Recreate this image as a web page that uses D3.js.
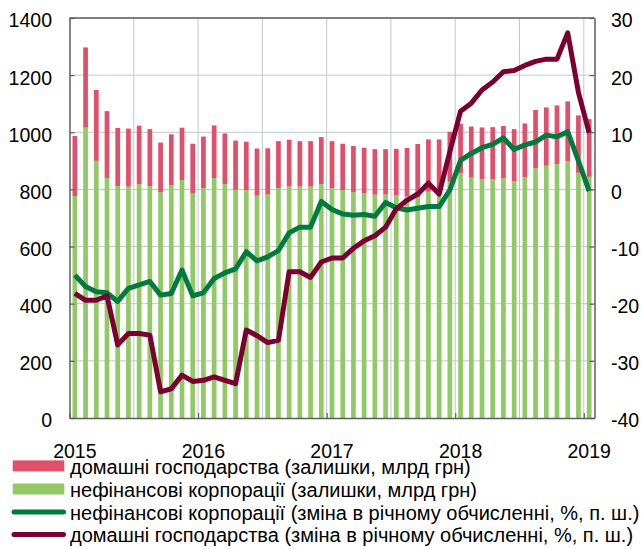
<!DOCTYPE html>
<html>
<head>
<meta charset="utf-8">
<script src="https://cdn.jsdelivr.net/npm/d3@7"></script>
<style>
  html, body { margin: 0; padding: 0; background: #fff; }
  svg { display: block; font-family: "Liberation Sans", Arial, sans-serif; }
</style>
</head>
<body>
<svg id="chart" width="641" height="549"></svg>
<script>
// ---- data ----
const years = ["2015", "2016", "2017", "2018", "2019"];
const months = d3.range(49).map(i => `${2015 + Math.floor(i / 12)}-${String(i % 12 + 1).padStart(2, "0")}`);

// stock of deposits, bn UAH
const corpStock = [777, 1016, 900, 840, 812, 810, 819, 812, 790, 815, 833, 786,
  804, 840, 819, 799, 797, 778, 782, 805, 810, 810, 810, 819,
  805, 798, 791, 786, 782, 782, 780, 775, 772, 792, 790, 827,
  856, 841, 836, 836, 839, 828, 843, 874, 883, 889, 899, 858,
  844];
const totalStock = [987, 1297, 1148, 1074, 1015, 1013, 1023, 1011, 964, 993, 1016, 960,
  985, 1024, 996, 971, 967, 943, 944, 969, 974, 969, 969, 983,
  969, 960, 952, 946, 941, 941, 942, 945, 959, 975, 975, 1002,
  1030, 1020, 1017, 1018, 1022, 1011, 1031, 1078, 1087, 1094, 1108, 1059,
  1046];
const householdStock = totalStock.map((t, i) => t - corpStock[i]);

// annual change, %, right axis
const corpChange = [-15.0, -17.0, -17.9, -18.1, -19.6, -17.3, -16.7, -16.1, -18.5, -18.2, -14.1, -18.6,
  -18.1, -15.6, -14.6, -13.9, -10.9, -12.5, -11.8, -10.7, -7.6, -6.6, -6.6, -2.1,
  -3.5, -4.3, -4.5, -4.4, -4.7, -2.3, -3.2, -3.6, -3.3, -3.0, -3.0, -0.1,
  5.1, 6.3, 7.3, 7.9, 9.0, 7.0, 7.8, 8.3, 9.5, 9.2, 10.1, 5.0,
  -0.3];
const householdChange = [-18.2, -19.4, -19.4, -18.6, -27.2, -25.2, -25.2, -25.5, -35.4, -34.9, -32.5, -33.6,
  -33.4, -32.8, -33.4, -34.0, -24.6, -25.6, -26.8, -26.4, -14.4, -14.4, -15.4, -12.7,
  -12.0, -12.0, -10.3, -9.0, -8.1, -6.6, -3.4, -1.9, -0.8, 1.1, -0.8, 6.6,
  13.7, 15.1, 17.4, 18.8, 20.6, 20.8, 21.7, 22.4, 22.8, 22.8, 27.4, 17.0,
  9.9];

const leftTicks = [0, 200, 400, 600, 800, 1000, 1200, 1400];
const rightTicks = [-40, -30, -20, -10, 0, 10, 20, 30];

const legendItems = [
  { label: "домашні господарства (залишки, млрд грн)", type: "rect", color: "#E0506A" },
  { label: "нефінансові корпорації (залишки, млрд грн)", type: "rect", color: "#93C866" },
  { label: "нефінансові корпорації (зміна в річному обчисленні, %, п. ш.)", type: "line", color: "#007A3E" },
  { label: "домашні господарства (зміна в річному обчисленні, %, п. ш.)", type: "line", color: "#7A0031" }
];

// ---- layout ----
const svg = d3.select("#chart");
const L = 69.5, R = 594.5, T = 18, B = 418;
const FS = 19.5, LFS = 20;

const x = d3.scaleBand().domain(months).range([L, R]).paddingInner(0.56).paddingOuter(0.28);
const xEdge = d3.scaleLinear().domain([0, months.length]).range([L, R]);
const yL = d3.scaleLinear().domain([0, 1400]).range([B, T]);
const yR = d3.scaleLinear().domain([-40, 30]).range([B, T]);
const cx = m => x(m) + x.bandwidth() / 2;

// gridlines
const grid = svg.append("g").attr("stroke", "#C3C7CB").attr("stroke-width", 1);
grid.selectAll("line.h").data(leftTicks.slice(1)).join("line")
  .attr("x1", L).attr("x2", R).attr("y1", d => yL(d)).attr("y2", d => yL(d));
grid.selectAll("line.v").data(d3.range(6, 49, 6)).join("line")
  .attr("x1", d => xEdge(d)).attr("x2", d => xEdge(d)).attr("y1", T).attr("y2", B);

// bars
svg.append("g").selectAll("rect").data(months).join("rect")
  .attr("x", m => x(m)).attr("width", x.bandwidth())
  .attr("y", (m, i) => yL(corpStock[i])).attr("height", (m, i) => yL(0) - yL(corpStock[i]))
  .attr("fill", legendItems[1].color);
svg.append("g").selectAll("rect").data(months).join("rect")
  .attr("x", m => x(m)).attr("width", x.bandwidth())
  .attr("y", (m, i) => yL(corpStock[i] + householdStock[i]))
  .attr("height", (m, i) => yL(corpStock[i]) - yL(corpStock[i] + householdStock[i]))
  .attr("fill", legendItems[0].color);

// lines
const line = arr => d3.line().x((m) => cx(m)).y((m, i) => yR(arr[i]))(months);
svg.append("path").attr("d", line(corpChange)).attr("fill", "none")
  .attr("stroke", legendItems[2].color).attr("stroke-width", 5).attr("stroke-linejoin", "round");
svg.append("path").attr("d", line(householdChange)).attr("fill", "none")
  .attr("stroke", legendItems[3].color).attr("stroke-width", 5).attr("stroke-linejoin", "round");

// axes
const axisColor = "#5E5E5E";
const plain = d => String(d);
const gL = svg.append("g").attr("transform", `translate(${L},0)`)
  .call(d3.axisLeft(yL).tickValues(leftTicks).tickFormat(plain).tickSize(-5).tickSizeOuter(0).tickPadding(17.5));
const gR = svg.append("g").attr("transform", `translate(${R},0)`)
  .call(d3.axisRight(yR).tickValues(rightTicks).tickFormat(plain).tickSize(-5).tickSizeOuter(0).tickPadding(16.5));
const gB = svg.append("g").attr("transform", `translate(0,${B})`)
  .call(d3.axisBottom(xEdge).tickValues([0, 12, 24, 36, 48]).tickSize(-5).tickSizeOuter(0));
gB.selectAll(".tick text").remove();
[gL, gR, gB].forEach(g => {
  g.selectAll(".domain").attr("stroke", axisColor).attr("stroke-width", 1.5);
  g.selectAll(".tick line").attr("stroke", axisColor).attr("stroke-width", 1.2);
  g.selectAll("text").attr("font-size", FS).attr("font-family", "Liberation Sans, Arial, sans-serif")
    .attr("fill", "#000").attr("dy", "0.46em");
});
svg.append("line").attr("x1", L).attr("x2", R).attr("y1", T).attr("y2", T)
  .attr("stroke", axisColor).attr("stroke-width", 1.5);

// year labels
svg.append("g").selectAll("text").data(years).join("text")
  .attr("x", (d, i) => cx(months[i * 12])).attr("y", 458)
  .attr("text-anchor", "middle").attr("font-size", FS).attr("fill", "#000").text(d => d);

// legend
const lg = svg.append("g");
const rowBase = [473.7, 496.8, 519.7, 542.4];
legendItems.forEach((it, i) => {
  const cy = rowBase[i] - 7.8;
  if (it.type === "rect") {
    lg.append("rect").attr("x", 12.7).attr("y", cy - 5.5).attr("width", 51.6).attr("height", 11).attr("fill", it.color);
  } else {
    lg.append("line").attr("x1", 14).attr("x2", 63.5).attr("y1", cy).attr("y2", cy)
      .attr("stroke", it.color).attr("stroke-width", 5).attr("stroke-linecap", "round");
  }
  lg.append("text").attr("x", 70).attr("y", rowBase[i]).attr("font-size", LFS).attr("fill", "#000").text(it.label);
});
</script>
</body>
</html>
